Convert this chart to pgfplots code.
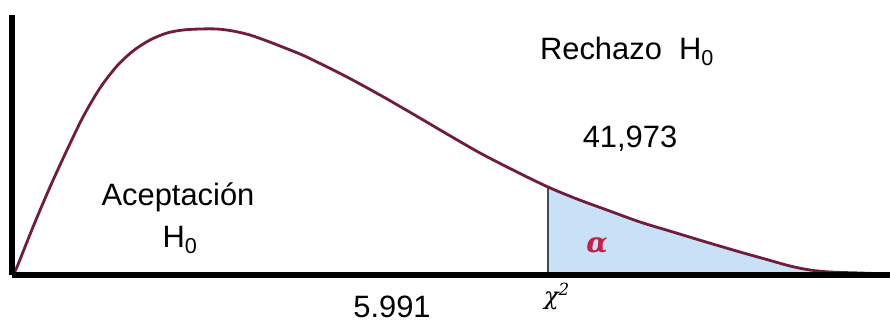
\documentclass[border=0pt]{standalone}
\usepackage{pgfplots}
\pgfplotsset{compat=1.18}
\usepackage{pgfplotstable}
\usepackage{fontspec}
\setmainfont{Liberation Sans}
\newfontfamily\greekfont{DejaVu Serif}

\definecolor{curvecol}{RGB}{112,28,58}
\definecolor{tailfill}{RGB}{200,225,247}
\definecolor{cutline}{RGB}{62,76,86}
\definecolor{alphacol}{RGB}{200,30,70}

% curve: x = pixel column, y = 275 - pixel row
\pgfplotstableread{
px py
13 1
17 8
33 48
50 88
67 125
83 158
100 187
117 209
133 224
150 235
167 242
183 245
200 246
217 246
233 244
250 240
267 234
280 229
300 221
313 215
347 198
380 180
413 161
447 141
480 122
515 104
548 88
577 76
607 65
640 53
673 43
706 33
740 23
765 16
790 9
810 5
830 3
860 2
888 1
}\chidens

\pgfplotstableread{
px py
548 88
577 76
607 65
640 53
673 43
706 33
740 23
765 16
790 9
810 5
830 3
860 2
888 1
}\chitail

\begin{document}
\begin{tikzpicture}
\path[use as bounding box] (-12bp,-48bp) rectangle (878bp,275bp);
\begin{axis}[
    scale only axis,
    width=878bp, height=260bp,
    xmin=12, xmax=890,
    ymin=0, ymax=260,
    axis lines=left,
    axis line style={-, line width=5bp, black},
    xtick=\empty, ytick=\empty,
    axis on top,
    clip=false,
]
\addplot[fill=tailfill, draw=none] table[x=px, y=py] {\chitail} \closedcycle;
\addplot[cutline, line width=1.8bp] coordinates {(548,0) (548,88)};
\addplot[curvecol, line width=2.8bp, smooth] table[x=px, y=py] {\chidens};

\node[anchor=base, font=\fontsize{31}{36}\selectfont] at (axis cs:627,216) {Rechazo~~H\textsubscript{0}};
\node[anchor=base, font=\fontsize{31}{36}\selectfont] at (axis cs:630,128) {41,973};
\node[anchor=base, font=\fontsize{31}{36}\selectfont] at (axis cs:178,70) {Aceptación};
\node[anchor=base, font=\fontsize{31}{36}\selectfont] at (axis cs:180,28) {H\textsubscript{0}};
\node[anchor=base, font=\fontsize{31}{36}\selectfont] at (axis cs:392,-42) {5.991};
\node[text=alphacol, font=\greekfont\bfseries\itshape\fontsize{28}{32}\selectfont] at (axis cs:597,29) {α};
\node[font=\greekfont\itshape\fontsize{24}{28}\selectfont] at (axis cs:557,-21) {χ\textsuperscript{2}};
\end{axis}
\end{tikzpicture}
\end{document}
